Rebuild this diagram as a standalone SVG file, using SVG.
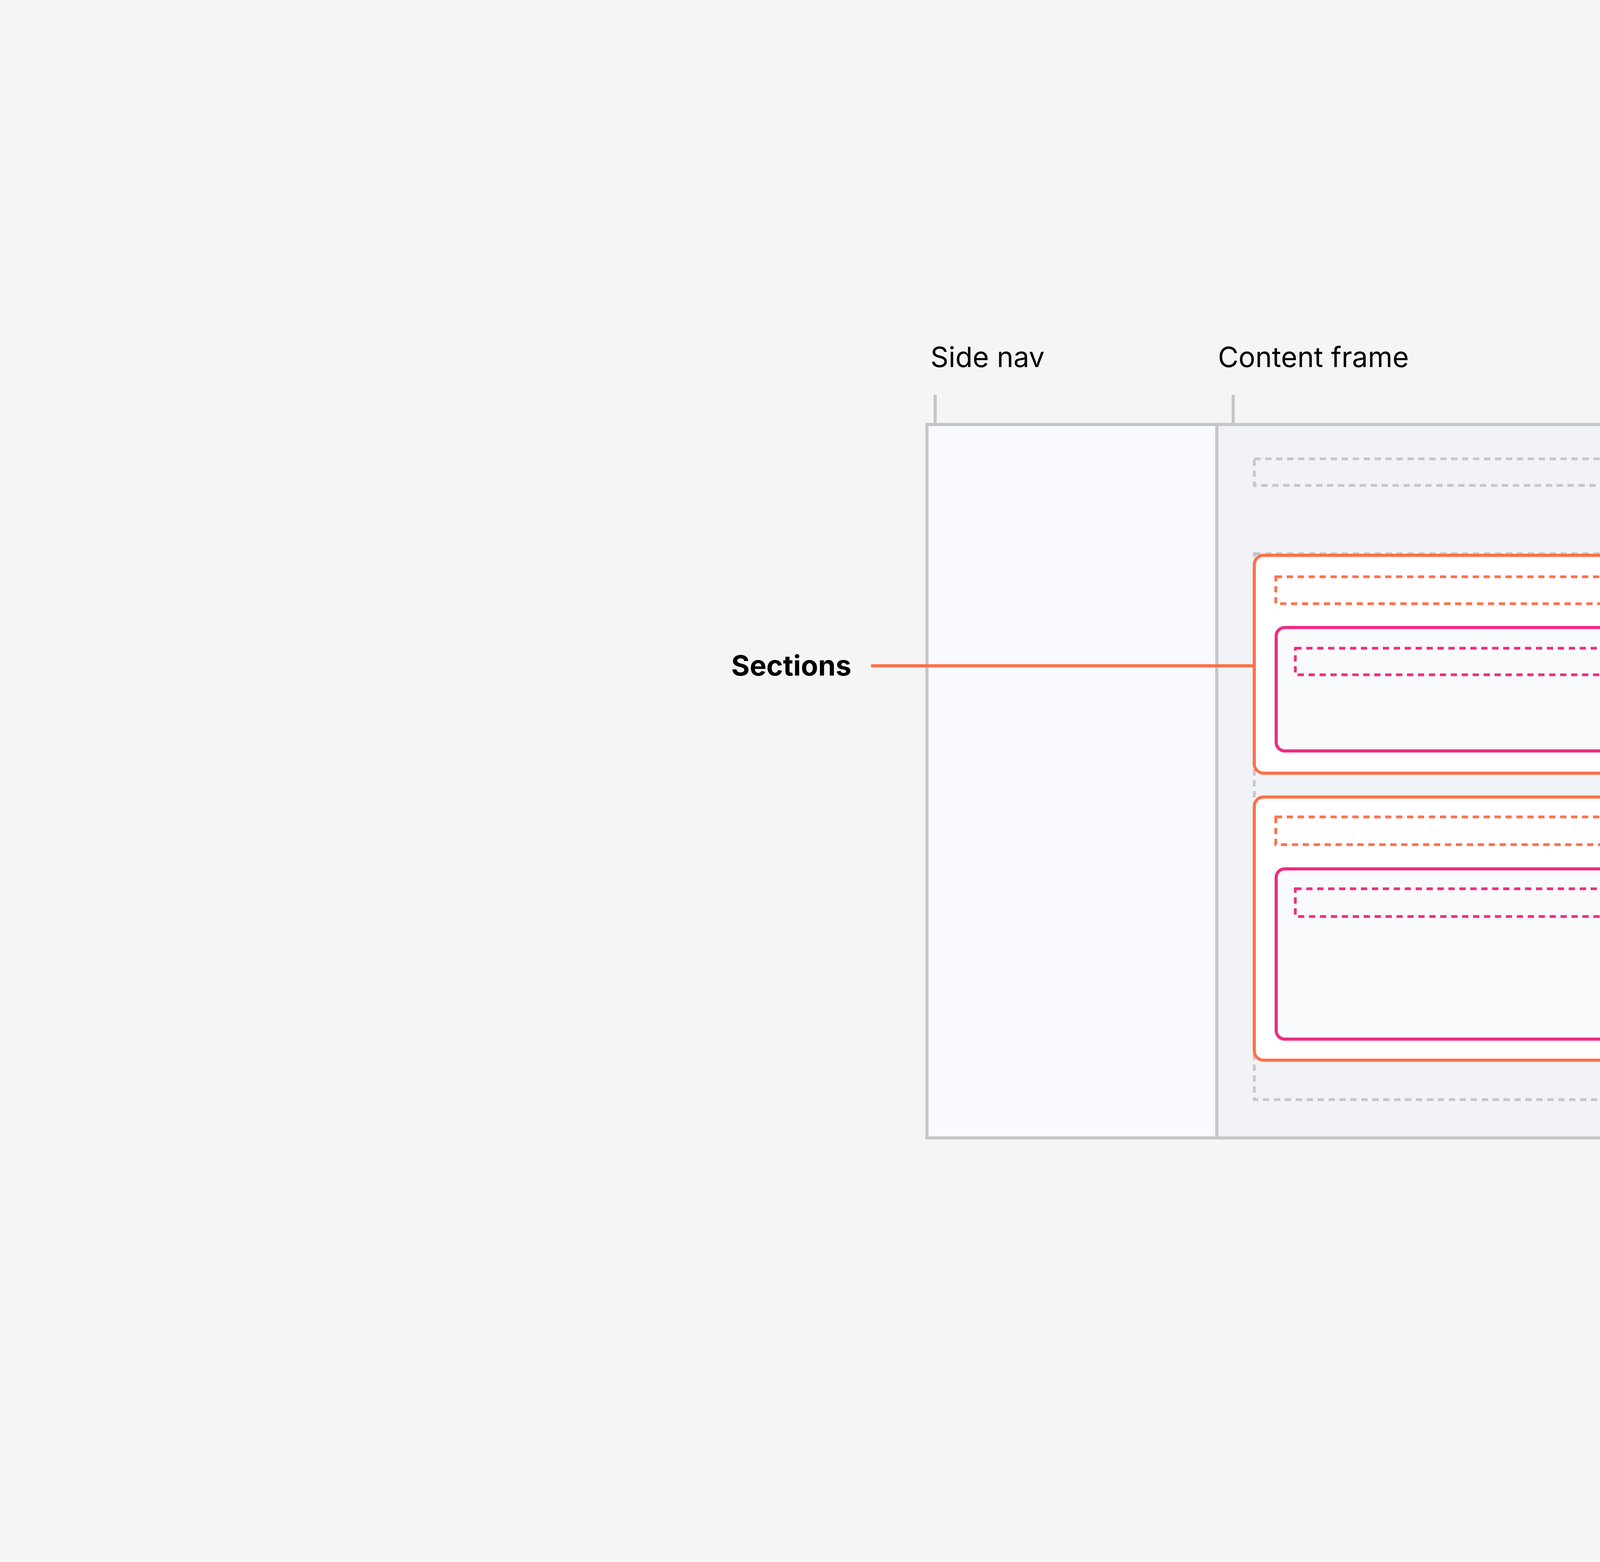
<svg xmlns="http://www.w3.org/2000/svg" width="8000" height="4000" viewBox="0 0 8000 4000">
<style>
.t{font-family:Inter,"Liberation Sans",sans-serif;font-size:72px;fill:#000}
.b{font-weight:700}
.gd{fill:none;stroke:#c6c6c8;stroke-width:7;stroke-dasharray:16 12}
.od{fill:none;stroke:#ff7049;stroke-width:7;stroke-dasharray:16 12}
.pd{fill:none;stroke:#f02b85;stroke-width:7;stroke-dasharray:16 12}
.sec{fill:#fff;stroke:#ff7049;stroke-width:8}
.sub{fill:#f9fafc;stroke:#f02b85;stroke-width:8}
.g{stroke:#c6c6c8;stroke-width:8}
</style>
<rect width="8000" height="4000" fill="#f5f5f5"/>
<g id="frame">
<rect x="2373" y="1087" width="3254" height="1827" fill="#f2f3f6" stroke="#c6c6c8" stroke-width="8"/>
<rect x="2377" y="1091" width="738" height="1819" fill="#f9fafd"/>
<line x1="3115" y1="1087" x2="3115" y2="2914" class="g"/>
</g>
<g id="breadcrumb"><rect x="3211" y="1175" width="2335" height="68" class="gd"/></g>
<g id="section-frame"><rect x="3211" y="1418" width="2330" height="1398" class="gd"/></g>
<g id="section1">
<rect x="3211" y="1422" width="2330" height="558" rx="24" class="sec"/>
<rect x="3266" y="1477" width="2219" height="69" class="od"/>
<rect x="3267" y="1607" width="1085" height="316" rx="22" class="sub"/>
<rect x="3316" y="1660" width="985" height="68" class="pd"/>
<rect x="4399" y="1607" width="1087" height="316" rx="22" class="sub"/>
<rect x="4449" y="1660" width="985" height="68" class="pd"/>
</g>
<g id="section2">
<rect x="3211" y="2041" width="2330" height="674" rx="24" class="sec"/>
<rect x="3266" y="2092" width="2219" height="71" class="od"/>
<rect x="3267" y="2225" width="2219" height="436" rx="22" class="sub"/>
<rect x="3316" y="2276" width="2118" height="71" class="pd"/>
</g>
<g id="connectors">
<line x1="2394" y1="1011" x2="2394" y2="1087" class="g"/>
<line x1="3157" y1="1011" x2="3157" y2="1087" class="g"/>
<line x1="5546" y1="1205" x2="5742" y2="1205" class="g"/>
<line x1="5541" y1="2763" x2="5742" y2="2763" class="g"/>
<line x1="2230" y1="1705" x2="3211" y2="1705" stroke="#ff7049" stroke-width="8"/>
<line x1="5486" y1="2448" x2="5742" y2="2448" stroke="#f02b85" stroke-width="8"/>
</g>
<g id="labels">
<text class="t" x="2382" y="940">Side nav</text>
<text class="t" x="3118" y="940">Content frame</text>
<text class="t" x="5776" y="1231">Breadcrumb</text>
<text class="t b" x="1872" y="1730">Sections</text>
<text class="t b" x="5776" y="2474">Subsections</text>
<text class="t" x="5776" y="2789">Section frame</text>
</g>
</svg>
